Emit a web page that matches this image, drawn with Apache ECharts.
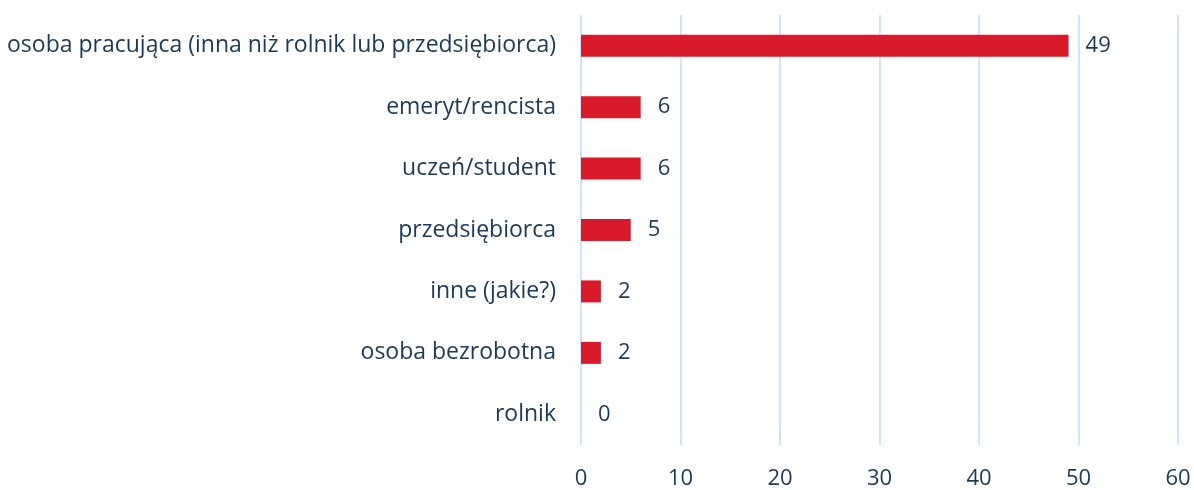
<!DOCTYPE html>
<html>
<head>
<meta charset="utf-8">
<script src="https://cdn.jsdelivr.net/npm/echarts@6/dist/echarts.min.js"></script>
<style>
  html, body { margin: 0; padding: 0; background: #fff; }
  #chart { width: 1194px; height: 490px; }
</style>
</head>
<body>
<div id="chart"></div>
<script>
// kategorie od góry do dołu
const categories = [
    'osoba pracująca (inna niż rolnik lub przedsiębiorca)',
    'emeryt/rencista',
    'uczeń/student',
    'przedsiębiorca',
    'inne (jakie?)',
    'osoba bezrobotna',
    'rolnik',
]
const values = [49, 6, 6, 5, 2, 2, 0]
const xTicks = [0, 10, 20, 30, 40, 50, 60]

const textColor = '#173a5a'
const font = '"Open Sans", "Noto Sans", sans-serif'

const myChart = echarts.init(document.getElementById('chart'))
myChart.setOption({
    animation: false,
    grid: { left: 581, right: 16, top: 15, bottom: 43 },
    xAxis: {
        type: 'value',
        min: xTicks[0],
        max: xTicks[xTicks.length - 1],
        interval: 10,
        axisLine: { show: false },
        axisTick: { show: false },
        axisLabel: { color: textColor, fontSize: 22, fontFamily: font, margin: 23 },
        splitLine: { lineStyle: { color: '#cde6f8', width: 2 } },
    },
    yAxis: {
        type: 'category',
        inverse: true,
        data: categories,
        axisLine: { show: false },
        axisTick: { show: false },
        axisLabel: { color: textColor, fontSize: 23, fontFamily: font, margin: 25 },
    },
    series: [{
        type: 'bar',
        data: values,
        barWidth: 22,
        itemStyle: { color: '#d91a2b' },
        label: {
            show: true,
            position: 'right',
            distance: 17,
            color: textColor,
            fontSize: 22,
            fontFamily: font,
        },
    }],
})
</script>
</body>
</html>
